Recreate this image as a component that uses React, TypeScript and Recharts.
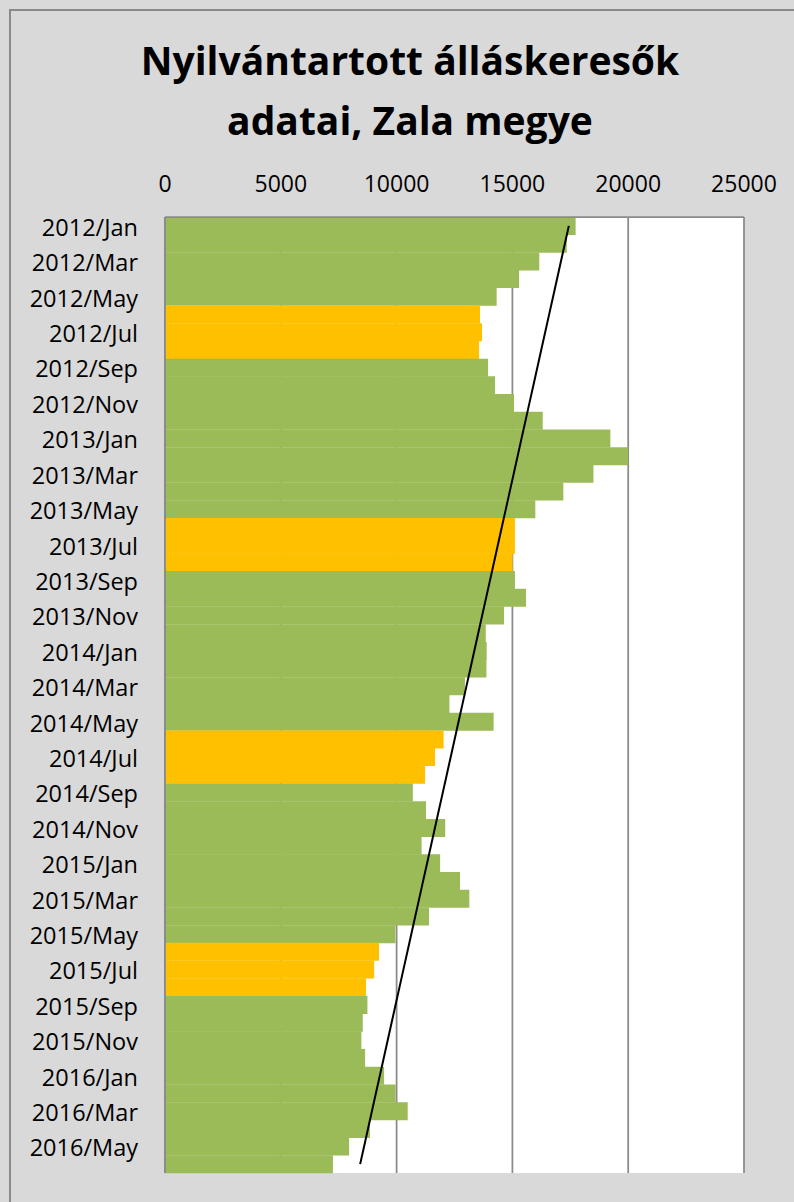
import React from "react"
import { ComposedChart, Bar, Cell, Line, XAxis, YAxis, CartesianGrid } from "recharts"

const years = [2012, 2013, 2014, 2015, 2016]
const months = ["Jan", "Feb", "Mar", "Apr", "May", "Jun", "Jul", "Aug", "Sep", "Oct", "Nov", "Dec"]
const categories = years.flatMap((y) => months.map((m) => `${y}/${m}`)).slice(0, 54)

// registered job seekers
const seekers = [
  17730, 17350, 16160, 15290, 14320, 13600, 13690, 13560, 13950, 14250, 15070, 16310,
  19230, 20000, 18500, 17200, 15990, 15110, 15110, 15010, 15110, 15590, 14640, 13850,
  13890, 13880, 12950, 12280, 14190, 12030, 11660, 11230, 10700, 11270, 12100, 11080,
  11880, 12740, 13140, 11400, 9950, 9240, 9030, 8680, 8740, 8540, 8480, 8640,
  9460, 9960, 10480, 8850, 7950, 7250,
]

// summer months drawn in orange
const highlighted = [
  "2012/Jun", "2012/Jul", "2012/Aug",
  "2013/Jun", "2013/Jul", "2013/Aug",
  "2014/Jun", "2014/Jul", "2014/Aug",
  "2015/Jun", "2015/Jul", "2015/Aug",
]

const xTicks = [0, 5000, 10000, 15000, 20000, 25000]

// linear trend (least squares over month index), like Excel's trendline
const n = seekers.length
const meanX = (n - 1) / 2
const meanY = seekers.reduce((a, b) => a + b, 0) / n
let sxy = 0
let sxx = 0
seekers.forEach((v, i) => {
  sxy += (i - meanX) * (v - meanY)
  sxx += (i - meanX) * (i - meanX)
})
const slope = sxy / sxx
const intercept = meanY - slope * meanX

const data = categories.map((label, i) => ({
  label,
  value: seekers[i],
  trend: intercept + slope * i,
}))

const font = "'Open Sans', sans-serif"

const XTick = ({ x, y, payload }: any) => (
  <text x={x} y={y - 34} textAnchor="middle" dominantBaseline="central" fontFamily={font} fontSize={23} fill="#000">
    {payload.value}
  </text>
)

const YTick = ({ x, y, payload }: any) => (
  <text x={x - 27} y={y + 1} textAnchor="end" dominantBaseline="central" fontFamily={font} fontSize={23.5} fill="#000">
    {payload.value}
  </text>
)

export default function App() {
  return (
    <div style={{ position: "fixed", left: 0, top: 0, width: 794, height: 1202, background: "#d9d9d9", overflow: "hidden" }}>
      <div
        style={{
          position: "absolute",
          left: 9,
          top: 9,
          right: 0,
          bottom: 0,
          borderLeft: "2px solid #8a8a8a",
          borderTop: "2px solid #8a8a8a",
        }}
      />
      <div
        style={{
          position: "absolute",
          left: 0,
          width: 820,
          top: 30,
          textAlign: "center",
          fontFamily: font,
          fontWeight: 700,
          fontSize: 39,
          lineHeight: "60px",
          color: "#000",
        }}
      >
        Nyilvántartott álláskeresők
        <br />
        adatai, Zala megye
      </div>
      <div style={{ position: "absolute", left: 0, top: 0 }}>
        <ComposedChart
          width={794}
          height={1202}
          data={data}
          layout="vertical"
          barCategoryGap={0}
          margin={{ top: 0, right: 50, bottom: 29, left: 0 }}
        >
          <CartesianGrid horizontal={false} stroke="#8a8a8a" strokeWidth={1.75} fill="#ffffff" />
          <XAxis
            type="number"
            orientation="top"
            domain={[0, 25000]}
            ticks={xTicks}
            height={217}
            tickSize={0}
            tickMargin={0}
            axisLine={{ stroke: "#8a8a8a", strokeWidth: 1.75 }}
            tick={<XTick />}
            interval={0}
          />
          <YAxis
            type="category"
            dataKey="label"
            width={165}
            interval={1}
            tickSize={0}
            tickMargin={0}
            axisLine={{ stroke: "#8a8a8a", strokeWidth: 1.75 }}
            tick={<YTick />}
          />
          <Bar dataKey="value" isAnimationActive={false}>
            {data.map((d) => (
              <Cell key={d.label} fill={highlighted.includes(d.label) ? "#ffc000" : "#9bbb59"} />
            ))}
          </Bar>
          <Line dataKey="trend" stroke="#000" strokeWidth={2} dot={false} activeDot={false} isAnimationActive={false} />
        </ComposedChart>
      </div>
    </div>
  )
}
